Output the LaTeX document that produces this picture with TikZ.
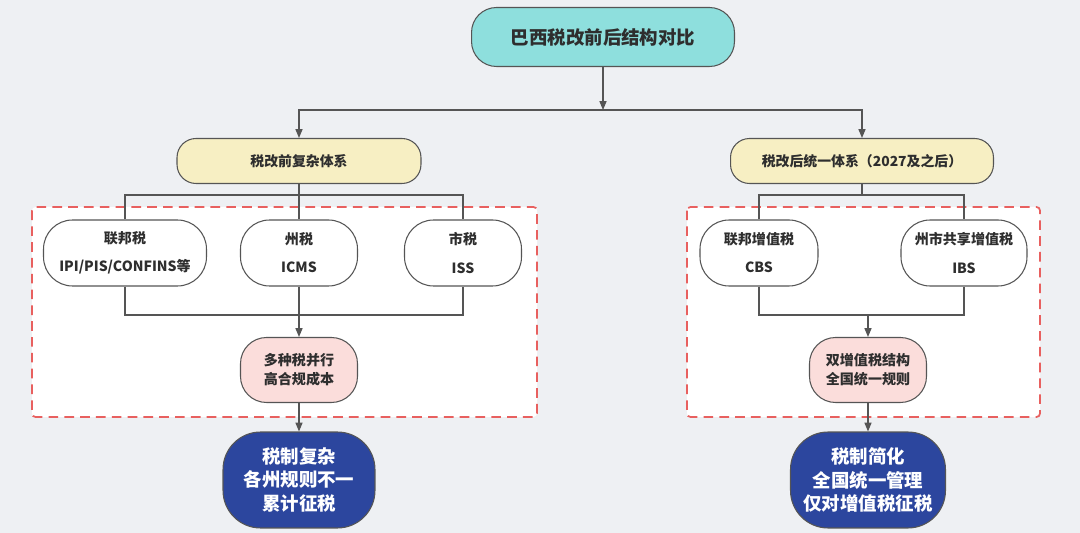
\documentclass[tikz,border=0pt]{standalone}
\usepackage{fontspec}
\setmainfont{Noto Sans CJK SC}
\usepackage{xcolor}
\usetikzlibrary{arrows.meta, positioning}
\definecolor{bgcol}{HTML}{EEF0F3}
\definecolor{linecol}{HTML}{555555}
\definecolor{txtcol}{HTML}{2E2E2E}
\definecolor{titlecol}{HTML}{8EDFDD}
\definecolor{groupcol}{HTML}{F7EFC3}
\definecolor{mergecol}{HTML}{FBDDDB}
\definecolor{resultcol}{HTML}{2C469E}
\definecolor{zonecol}{HTML}{E8605F}
\tikzset{
  box/.style={draw=linecol, line width=0.6pt, align=center, inner sep=0pt, text=txtcol},
  titlebox/.style={box, fill=titlecol, rounded corners=0.5cm, minimum width=5.26cm, minimum height=1.18cm, font=\bfseries\fontsize{10.5}{12}\selectfont},
  groupbox/.style={box, fill=groupcol, rounded corners=0.38cm, minimum height=0.9cm, font=\bfseries\fontsize{7.9}{10}\selectfont},
  taxbox/.style={box, fill=white, rounded corners=0.58cm, minimum height=1.32cm, font=\bfseries\fontsize{8}{10}\selectfont},
  mergebox/.style={box, fill=mergecol, rounded corners=0.52cm, minimum width=2.34cm, minimum height=1.3cm, font=\bfseries\fontsize{8}{10.7}\selectfont},
  resultbox/.style={box, fill=resultcol, text=white, rounded corners=0.75cm, minimum height=1.92cm, font=\bfseries\fontsize{10.5}{13.6}\selectfont},
  zone/.style={draw=zonecol, fill=white, line width=1pt, dash pattern=on 5.5pt off 3.5pt, rounded corners=2pt},
  link/.style={draw=linecol, line width=0.6pt},
  arr/.style={link, -{Triangle[length=5pt,width=4pt]}}
}

\begin{document}
\begin{tikzpicture}[x=0.02cm, y=-0.02cm]
  \fill[bgcol] (0,0) rectangle (1080,533);
  \useasboundingbox (0,0) rectangle (1080,533);
  \draw[zone] (32,207) rectangle (537,417);
  \draw[zone] (687,207) rectangle (1040,417);

  \node[titlebox] (t) at (603,37) {巴西税改前后结构对比};
  \node[groupbox, minimum width=4.88cm] (y1) at (299,161) {税改前复杂体系};
  \node[groupbox, minimum width=5.26cm] (y2) at (862,161) {税改后统一体系（2027及之后）};
  \node[taxbox, minimum width=3.26cm] (l1) at (125,253) {联邦税\\[6pt]IPI/PIS/CONFINS等};
  \node[taxbox, minimum width=2.34cm] (l2) at (299,253) {州税\\[6pt]ICMS};
  \node[taxbox, minimum width=2.34cm] (l3) at (463,253) {市税\\[6pt]ISS};
  \node[taxbox, minimum width=2.36cm] (r1) at (759,253) {联邦增值税\\[6pt]CBS};
  \node[taxbox, minimum width=2.52cm] (r2) at (964,253) {州市共享增值税\\[6pt]IBS};
  \node[mergebox] (p1) at (299,370) {多种税并行\\高合规成本};
  \node[mergebox] (p2) at (868,370) {双增值税结构\\全国统一规则};
  \node[resultbox, minimum width=3.04cm] (n1) at (299,480) {税制复杂\\各州规则不一\\累计征税};
  \node[resultbox, minimum width=3.1cm] (n2) at (868,480) {税制简化\\全国统一管理\\仅对增值税征税};

  \coordinate (tb) at (603,110);
  \coordinate (lb) at (299,195);
  \coordinate (lm) at (299,315);
  \coordinate (rb) at (862,195);
  \coordinate (rm) at (868,315);

  \draw[arr] (t) -- (tb);
  \draw[arr] (tb) -| (y1);
  \draw[arr] (tb) -| (y2);
  \draw[link]
    (y1) -- (l2)
    (l1.north) |- (lb) -| (l3.north)
    (l1.south) |- (lm) -| (l3.south)
    (y2) -- (rb)
    (r1.north) |- (rb) -| (r2.north)
    (r1.south) |- (rm) -| (r2.south);
  \draw[arr] (l2) -- (p1);
  \draw[arr] (rm) -- (p2);
  \draw[arr] (p1) -- (n1);
  \draw[arr] (p2) -- (n2);
\end{tikzpicture}
\end{document}
